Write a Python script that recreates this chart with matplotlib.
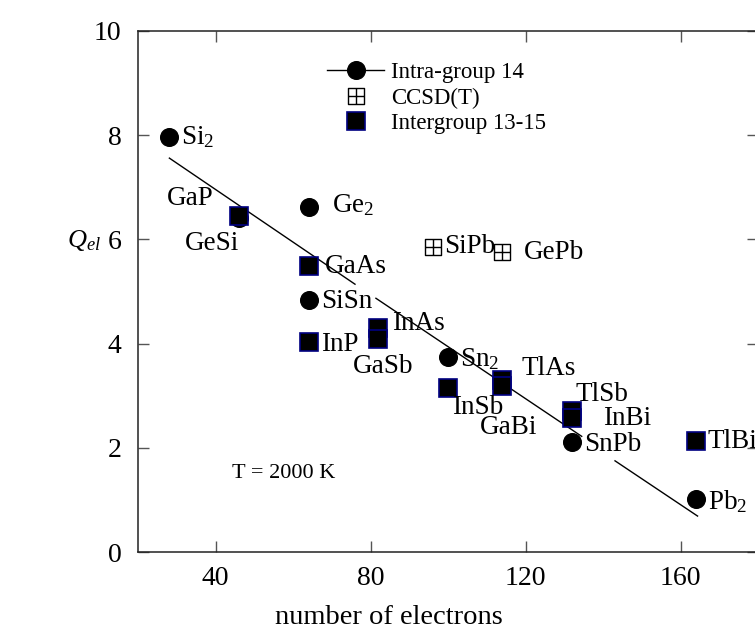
import matplotlib
matplotlib.use("Agg")
import matplotlib.pyplot as plt
from matplotlib.lines import Line2D
from matplotlib.path import Path

plt.rcParams['font.family'] = ['Liberation Serif', 'DejaVu Serif']
plt.rcParams['mathtext.fontset'] = 'custom'
plt.rcParams['mathtext.rm'] = 'Liberation Serif'
plt.rcParams['mathtext.it'] = 'Liberation Serif:italic'
plt.rcParams['mathtext.default'] = 'regular'

# ---------------- data ----------------
intra_names = ["Si$_2$", "GeSi", "Ge$_2$", "SiSn", "Sn$_2$", "SnPb", "Pb$_2$"]
intra_x = [28, 46, 64, 64, 100, 132, 164]
intra_y = [7.96, 6.42, 6.62, 4.84, 3.74, 2.12, 1.01]

inter_names = ["GaP", "GaAs", "InP", "InAs", "GaSb", "InSb", "TlAs", "GaBi",
               "TlSb", "InBi", "TlBi"]
inter_x = [46, 64, 64, 82, 82, 100, 114, 114, 132, 132, 164]
inter_y = [6.45, 5.48, 4.03, 4.29, 4.08, 3.15, 3.30, 3.19, 2.71, 2.57, 2.14]

ccsd_names = ["SiPb", "GePb"]
ccsd_x = [96, 114]
ccsd_y = [5.86, 5.75]

# fitted line for intra-group 14, drawn in segments (gaps around labels)
fit_seg_x = [(28.1, 76.0), (81.4, 134.5), (143.1, 164.4)]
fit_seg_y = [(7.56, 5.14), (4.87, 2.22), (1.75, 0.69)]

x_ticks = [40, 80, 120, 160]
y_ticks = [0, 2, 4, 6, 8, 10]

# label offsets in pixels (dx, dy) relative to the marker
label_off = {
    "Si$_2$": (12, 0), "GeSi": (-54, -26), "Ge$_2$": (23, 2), "SiSn": (13, -2),
    "Sn$_2$": (12, -2), "SnPb": (12, -3), "Pb$_2$": (12, -2),
    "GaP": (-72, 17), "GaAs": (16, 0), "InP": (13, -2), "InAs": (14, 5),
    "GaSb": (-25, -27), "InSb": (4, -20), "TlAs": (19, 12), "GaBi": (-22, -42),
    "TlSb": (4, 16), "InBi": (31, 0), "TlBi": (12, -1),
    "SiPb": (12, 0), "GePb": (22, 0),
}

# ---------------- figure ----------------
W, H = 755, 631
fig = plt.figure(figsize=(W / 100, H / 100), dpi=100)
L, R, T, B = 138, 758, 31, 552
ax = fig.add_axes([L / W, (H - B) / H, (R - L) / W, (B - T) / H])

ax.set_xlim(20, 180)
ax.set_ylim(0, 10)
ax.set_xticks(x_ticks)
ax.set_yticks(y_ticks)
ax.tick_params(direction='in', length=8, width=1, colors='#555555',
               labelcolor='black', labelsize=20, top=True, right=True, pad=12)
ax.tick_params(axis='x', pad=10)
for s in ax.spines.values():
    s.set_linewidth(1.1)
    s.set_color('#222222')

# fit line
for xs, ys in zip(fit_seg_x, fit_seg_y):
    ax.plot(xs, ys, color='black', lw=1)

# grid-square marker (CCSD(T))
verts = [(-1, -1), (1, -1), (1, 1), (-1, 1), (-1, -1),
         (0, -1), (0, 1), (-1, 0), (1, 0)]
codes = [Path.MOVETO, Path.LINETO, Path.LINETO, Path.LINETO, Path.CLOSEPOLY,
         Path.MOVETO, Path.LINETO, Path.MOVETO, Path.LINETO]
grid_marker = Path(verts, codes)

ax.plot(intra_x, intra_y, ls='none', marker='o', ms=12.7, mfc='black',
        mec='black', zorder=3)
ax.plot(inter_x, inter_y, ls='none', marker='s', ms=13, mfc='black',
        mec='#000080', mew=1.2, zorder=4)
ax.plot(ccsd_x, ccsd_y, ls='none', marker=grid_marker, ms=12, mfc='none',
        mec='black', mew=1, zorder=4)


def lab(names, xs, ys):
    for n, x, y in zip(names, xs, ys):
        dx, dy = label_off[n]
        ax.annotate(n, (x, y), xytext=(dx, dy), textcoords='offset pixels',
                    ha='left', va='center', fontsize=19.5, zorder=5)


lab(intra_names, intra_x, intra_y)
lab(inter_names, inter_x, inter_y)
lab(ccsd_names, ccsd_x, ccsd_y)

# legend
h1 = Line2D([], [], color='black', lw=1, marker='o', ms=12.7, mfc='black', mec='black')
h2 = Line2D([], [], ls='none', marker=grid_marker, ms=12, mfc='none', mec='black', mew=1)
h3 = Line2D([], [], ls='none', marker='s', ms=13, mfc='black', mec='#000080', mew=1.2)
leg = ax.legend([h1, h2, h3], ["Intra-group 14", "CCSD(T)", "Intergroup 13-15"],
                loc='upper left', bbox_to_anchor=(327 / W, 1 - 62 / H),
                bbox_transform=fig.transFigure, frameon=False, fontsize=16.5,
                handlelength=2.5, handletextpad=0.3, labelspacing=0.2,
                borderpad=0, borderaxespad=0, numpoints=1)

fig.text(284 / W, 1 - 473 / H, "T = 2000 K", fontsize=16, ha='center', va='center')

ax.set_xlabel("number of electrons", fontsize=20.5)
ax.xaxis.set_label_coords((389 - L) / (R - L), -(617 - B) / (B - T), transform=ax.transAxes)
ax.xaxis.label.set_va('center')
fig.text(101 / W, 1 - 240 / H, r"$\mathit{Q}_{\mathit{el}}$", fontsize=19,
         ha='right', va='center')

fig.savefig("out.png", dpi=100)
